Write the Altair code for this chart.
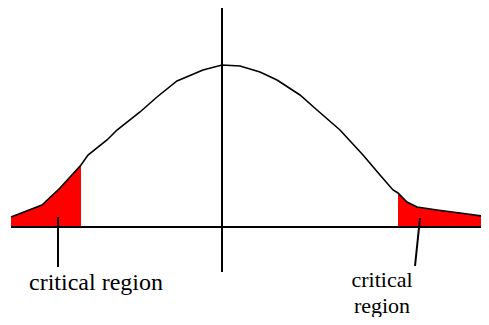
import altair as alt
import pandas as pd

# Bell curve (x: offset from centre line, y: height above the horizontal axis)
curve_x = [-211, -180, -162, -141, -134, -115, -105, -82, -65, -45, -19, 0,
           18, 38, 55, 78, 95, 118, 141, 158, 171, 176, 185, 195, 215, 238, 267]
curve_y = [10, 22, 39, 62, 72, 87, 97, 115, 130, 146, 157, 162,
           161, 155, 147, 132, 117, 97, 72, 52, 37, 34, 25, 20, 17, 14, 10]

left_cut = -141
right_cut = 176

# Axis extents
h_axis_x = [-211, 267]
v_axis_y = [-45, 219]

# Labels
left_label = "critical region"
left_label_pos = (-126, -63)
right_label = "critical\nregion"
right_label_pos = (160, -60)

# Pointer lines (x, y, x2, y2)
ptr_x = [-164, 198]
ptr_y = [10, 9]
ptr_x2 = [-164, 193]
ptr_y2 = [-40, -39]

xs = alt.Scale(domain=[-214, 259], nice=False, zero=False)
ys = alt.Scale(domain=[-90, 219], nice=False, zero=False)

curve = pd.DataFrame({"x": curve_x, "y": curve_y})
tails = curve[(curve.x <= left_cut) | (curve.x >= right_cut)].copy()
tails["side"] = ["L" if v <= left_cut else "R" for v in tails.x]

area = alt.Chart(tails).mark_area(color="#FF0000", opacity=1).encode(
    x=alt.X("x:Q", scale=xs, axis=None),
    y=alt.Y("y:Q", scale=ys, axis=None),
    y2=alt.datum(0),
    detail="side:N",
)

line = alt.Chart(curve).mark_line(color="black", strokeWidth=1.6).encode(
    x=alt.X("x:Q", scale=xs, axis=None),
    y=alt.Y("y:Q", scale=ys, axis=None),
)

haxis = alt.Chart(pd.DataFrame({"x": [h_axis_x[0]], "x2": [h_axis_x[1]], "y": [0]})).mark_rule(
    color="black", strokeWidth=2
).encode(x=alt.X("x:Q", scale=xs, axis=None), x2="x2:Q", y=alt.Y("y:Q", scale=ys, axis=None))

vaxis = alt.Chart(pd.DataFrame({"x": [0], "y": [v_axis_y[0]], "y2": [v_axis_y[1]]})).mark_rule(
    color="black", strokeWidth=2
).encode(x=alt.X("x:Q", scale=xs, axis=None), y=alt.Y("y:Q", scale=ys, axis=None), y2="y2:Q")

ptr = alt.Chart(pd.DataFrame({"x": ptr_x, "y": ptr_y, "x2": ptr_x2, "y2": ptr_y2})).mark_rule(
    color="black", strokeWidth=2
).encode(
    x=alt.X("x:Q", scale=xs, axis=None), y=alt.Y("y:Q", scale=ys, axis=None),
    x2="x2:Q", y2="y2:Q",
)

text_left = alt.Chart(pd.DataFrame({"t": [left_label], "x": [left_label_pos[0]], "y": [left_label_pos[1]]})).mark_text(
    font="Liberation Serif", fontSize=24, color="black", align="center", baseline="alphabetic",
).encode(
    x=alt.X("x:Q", scale=xs, axis=None), y=alt.Y("y:Q", scale=ys, axis=None), text="t:N"
)

text_right = alt.Chart(pd.DataFrame({"t": [right_label], "x": [right_label_pos[0]], "y": [right_label_pos[1]]})).mark_text(
    font="Liberation Serif", fontSize=22, color="black", align="center", baseline="alphabetic",
    lineBreak="\n", lineHeight=26,
).encode(
    x=alt.X("x:Q", scale=xs, axis=None), y=alt.Y("y:Q", scale=ys, axis=None), text="t:N"
)

chart = alt.layer(area, line, haxis, vaxis, ptr, text_left, text_right).properties(
    width=473, height=309, padding=0, autosize=alt.AutoSizeParams(type="none"),
    background="white",
).configure_view(stroke=None)

chart.save("out.html", embed_options={"renderer": "svg", "actions": False})
